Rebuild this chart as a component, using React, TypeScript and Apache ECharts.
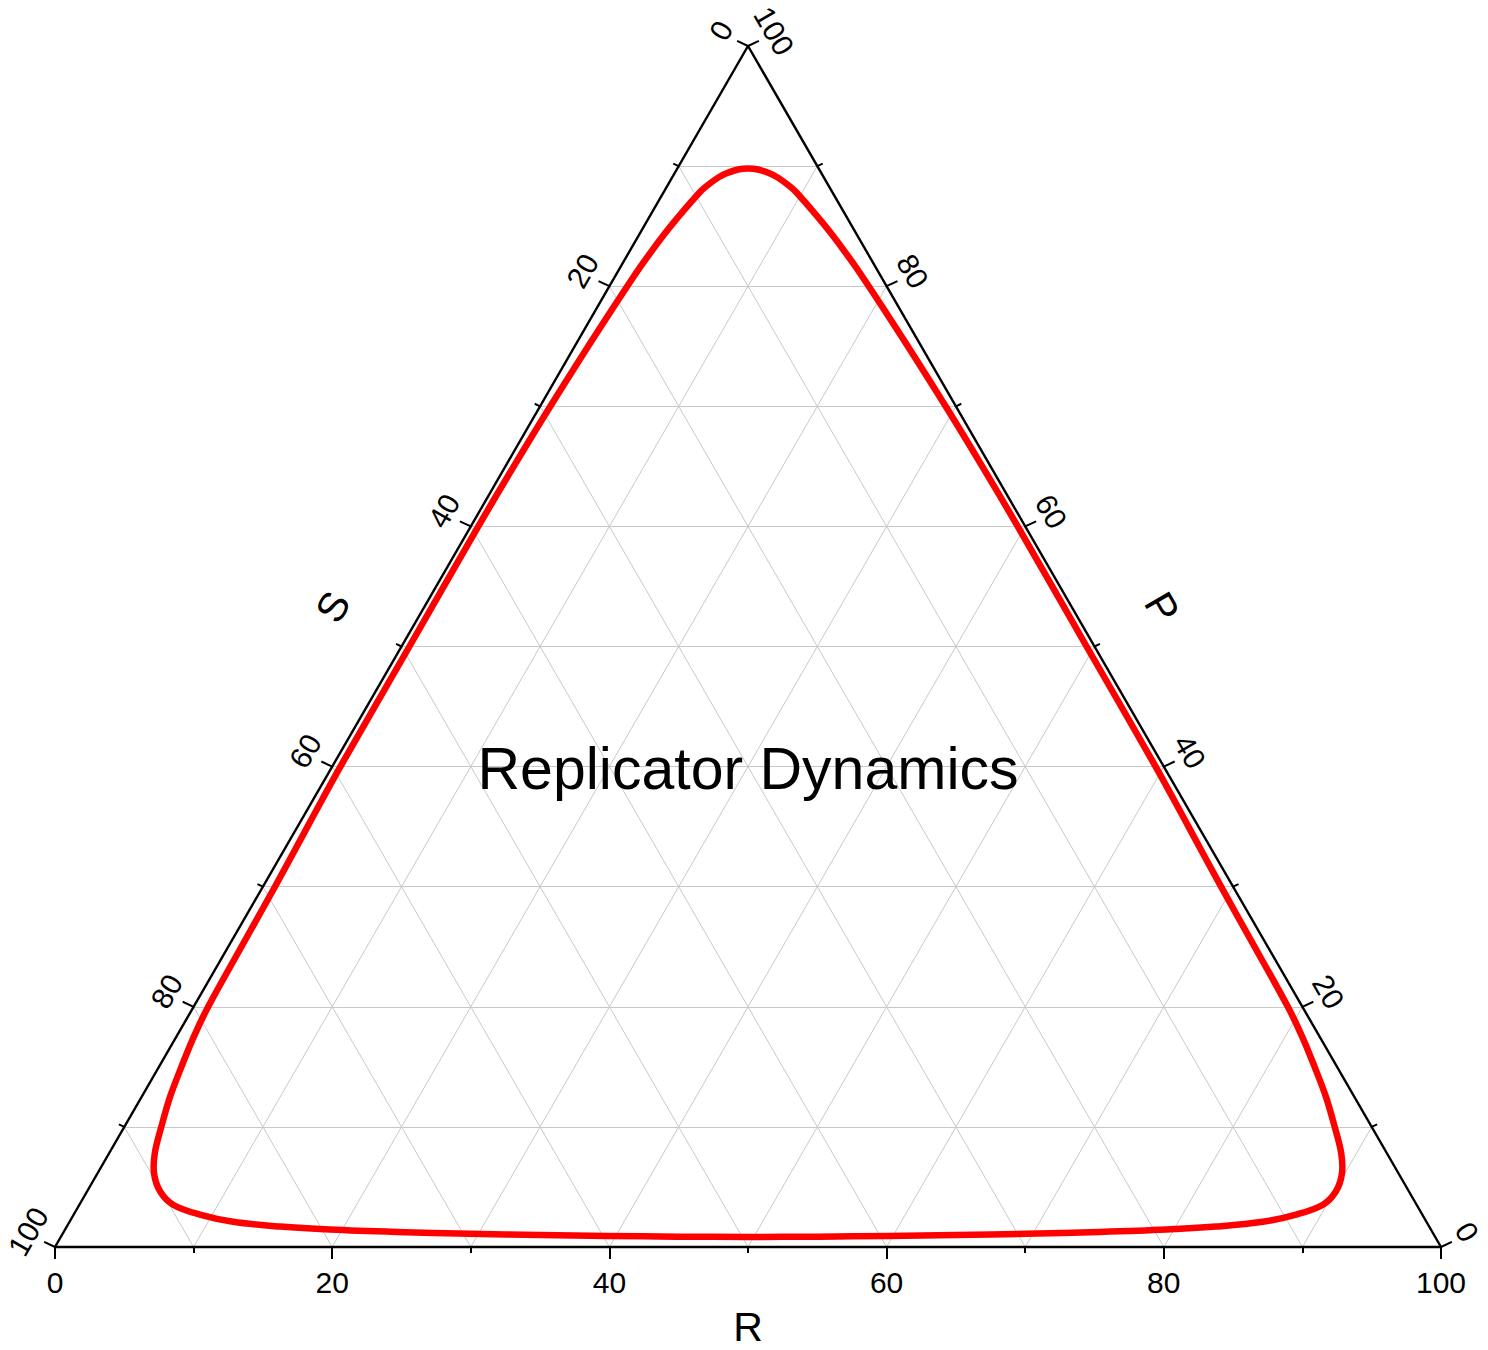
import React, { useEffect, useRef } from "react";
import * as echarts from "echarts";

const FONT = '"Liberation Sans", Arial, Helvetica, sans-serif';
const H = Math.sqrt(3) / 2;
const PX = 1 / 13.86; // one pixel in data units

// Ternary axes
const gridSteps = [10, 20, 30, 40, 50, 60, 70, 80, 90];
const tickSteps = [0, 10, 20, 30, 40, 50, 60, 70, 80, 90, 100];
const labelSteps = [0, 20, 40, 60, 80, 100];
const axisNameR = "R";
const axisNameS = "S";
const axisNameP = "P";
const chartTitle = "Replicator Dynamics";

// Closed orbit (percent). S = 100 - R - P
const orbitR = [
  0.57, 0.59, 0.72, 0.87, 0.95, 1.05, 1.26, 1.62, 2.05, 2.67, 3.3, 4.1, 5.3, 6.8, 9.1, 11.8, 15.4, 19.1,
  24.0, 29.4, 34.5, 39.4, 44.5, 49.6, 54.64, 59.68, 64.5, 69.5, 74.75, 79.45, 82.9, 86.1, 88.2, 89.7,
  90.1, 89.8, 88.9, 87.33, 85.45, 83.38, 81.24, 78.95, 74.05, 69.13, 64.28, 59.41, 49.43, 39.46, 34.4,
  29.26, 24.03, 20.85, 18.71, 16.53, 13.79, 11.86, 9.57, 8.88, 7.64, 6.85, 5.86, 5.1, 4.42, 3.75, 3.32,
  2.82, 2.61, 2.14, 1.81, 1.47, 1.29, 1.15, 0.97, 0.74, 0.6, 0.54,
];
const orbitP = [
  50, 40, 35, 30, 25, 20, 17.5, 15, 12.5, 10, 7.8, 6.1, 4.6, 3.5, 2.7, 2.1, 1.7, 1.45, 1.25, 1.1, 1.0,
  0.92, 0.86, 0.84, 0.86, 0.92, 1.0, 1.1, 1.25, 1.45, 1.7, 2.1, 2.7, 3.5, 4.6, 6.1, 7.8, 10, 12.5, 15,
  17.5, 20, 25, 30, 35, 40, 50, 60, 65, 70, 75, 78, 80, 82, 84.4, 86, 87.82, 88.3, 89.04, 89.4, 89.72,
  89.8, 89.72, 89.4, 89.04, 88.3, 87.82, 86, 84.4, 82, 80, 78, 75, 70, 65, 60,
];

function tern(R: number, P: number): [number, number] {
  return [R + P / 2, P * H];
}
function add(p: [number, number], d: [number, number], len: number): [number, number] {
  return [p[0] + d[0] * len * PX, p[1] + d[1] * len * PX];
}

const NB: [number, number] = [0, -1];
const NL: [number, number] = [-H, 0.5];
const NR: [number, number] = [H, 0.5];
const TL: [number, number] = [-Math.cos((25 * Math.PI) / 180), Math.sin((25 * Math.PI) / 180)];
const TR: [number, number] = [Math.cos((25 * Math.PI) / 180), Math.sin((25 * Math.PI) / 180)];

function buildOption() {
  const gridLines: any[] = [];
  gridSteps.forEach((v) => {
    gridLines.push({ coords: [tern(0, v), tern(100 - v, v)] });
    gridLines.push({ coords: [tern(v, 0), tern(v, 100 - v)] });
    gridLines.push({ coords: [tern(100 - v, 0), tern(0, 100 - v)] });
  });
  const edges = [
    { coords: [tern(0, 0), tern(100, 0)] },
    { coords: [tern(0, 0), tern(0, 100)] },
    { coords: [tern(100, 0), tern(0, 100)] },
  ];
  const ticks: any[] = [];
  tickSteps.forEach((v) => {
    const len = v % 20 === 0 ? 12 : 6;
    const b = tern(v, 0);
    ticks.push({ coords: [b, add(b, NB, len)] });
    const l = tern(0, 100 - v);
    ticks.push({ coords: [l, add(l, TL, len)] });
    const r = tern(100 - v, v);
    ticks.push({ coords: [r, add(r, TR, len)] });
  });
  const bottomLabels = labelSteps.map((v) => ({ name: String(v), value: add(tern(v, 0), NB, 35) }));
  const leftLabels = labelSteps.map((v) => ({ name: String(v), value: add(tern(0, 100 - v), NL, 31) }));
  const rightLabels = labelSteps.map((v) => ({ name: String(v), value: add(tern(100 - v, v), NR, 30) }));

  const orbit = orbitR.map((R, i) => tern(R, orbitP[i]));

  const labelBase = {
    show: true,
    position: "inside",
    formatter: "{b}",
    color: "#000000",
    opacity: 1,
    textBorderWidth: 0,
    fontFamily: FONT,
    align: "center",
    verticalAlign: "middle",
  };
  const hiddenPoint = {
    type: "scatter",
    symbol: "circle",
    symbolSize: 1,
    itemStyle: { color: "transparent", opacity: 1 },
    emphasis: { disabled: true },
    silent: true,
    clip: false,
    z: 5,
  };

  return {
    animation: false,
    backgroundColor: "#ffffff",
    textStyle: { color: "#000000", fontFamily: FONT },
    grid: { left: 55, top: 46, width: 1386, height: 1201 },
    xAxis: { type: "value", min: 0, max: 100, show: false },
    yAxis: { type: "value", min: 0, max: 100 * H, show: false },
    graphic: [
      {
        type: "text",
        x: 748,
        y: 769,
        style: {
          text: chartTitle,
          fontSize: 59,
          fontFamily: FONT,
          fill: "#000",
          textAlign: "center",
          textVerticalAlign: "middle",
        },
        z: 10,
      },
    ],
    series: [
      {
        type: "lines",
        coordinateSystem: "cartesian2d",
        data: gridLines,
        lineStyle: { color: "#c8c8c8", width: 1, opacity: 1 },
        silent: true,
        clip: false,
        z: 1,
      },
      {
        type: "lines",
        coordinateSystem: "cartesian2d",
        data: edges,
        lineStyle: { color: "#000", width: 2.4, opacity: 1 },
        silent: true,
        clip: false,
        z: 2,
      },
      {
        type: "lines",
        coordinateSystem: "cartesian2d",
        data: ticks,
        lineStyle: { color: "#000", width: 2, opacity: 1 },
        silent: true,
        clip: false,
        z: 2,
      },
      {
        type: "custom",
        coordinateSystem: "cartesian2d",
        data: orbit,
        encode: { x: 0, y: 1 },
        silent: true,
        clip: false,
        z: 3,
        renderItem: (params: any, api: any) => {
          if (params.dataIndex !== 0) return null;
          const pts = orbit.map((p) => api.coord(p));
          return {
            type: "polygon",
            shape: { points: pts, smooth: 0.36 },
            style: { fill: "none", stroke: "#ff0000", lineWidth: 6.5, lineJoin: "round" },
          };
        },
      },
      { ...hiddenPoint, data: bottomLabels, label: { ...labelBase, fontSize: 30, rotate: 0 } },
      { ...hiddenPoint, data: leftLabels, label: { ...labelBase, fontSize: 30, rotate: 60 } },
      { ...hiddenPoint, data: rightLabels, label: { ...labelBase, fontSize: 30, rotate: -60 } },
      {
        ...hiddenPoint,
        data: [
          { name: axisNameR, value: add(tern(50, 0), NB, 80) },
          { name: axisNameS, value: add(tern(0, 50), NL, 79), label: { rotate: 60 } },
          { name: axisNameP, value: add(tern(50, 50), NR, 78), label: { rotate: -60 } },
        ],
        label: { ...labelBase, fontSize: 41 },
      },
    ],
  };
}

export default function App() {
  const ref = useRef<HTMLDivElement>(null);
  useEffect(() => {
    if (!ref.current) return;
    const chart = echarts.init(ref.current, undefined, { renderer: "svg" });
    chart.setOption(buildOption() as any);
    return () => chart.dispose();
  }, []);
  return (
    <div
      ref={ref}
      style={{ position: "absolute", left: 0, top: 0, width: 1488, height: 1350, background: "#fff" }}
    />
  );
}
